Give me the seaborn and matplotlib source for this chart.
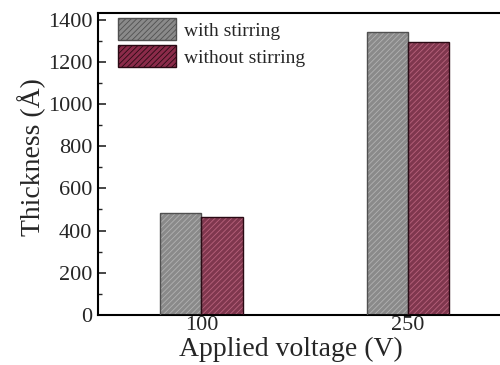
import matplotlib
matplotlib.use('Agg')
import matplotlib.pyplot as plt
import seaborn as sns
import pandas as pd
from matplotlib.patches import Patch, Rectangle
from matplotlib.ticker import MultipleLocator

voltages = ['100', '250']
series = ['with stirring', 'without stirring']
with_stirring = [485, 1340]
without_stirring = [463, 1295]

fills = ['#8a8a8a', '#8b2b4a']
hatch_cols = ['#b2b2b2', '#b8627c']
edges = ['#505050', '#2a0a14']

df = pd.DataFrame({
    'voltage': voltages * 2,
    'series': [series[0]] * 2 + [series[1]] * 2,
    'thickness': with_stirring + without_stirring,
})

sns.set_style('white')
plt.rcParams['font.family'] = ['Liberation Serif', 'DejaVu Serif']
plt.rcParams['hatch.linewidth'] = 0.6

fig = plt.figure(figsize=(5, 3.65), dpi=100)
ax = fig.add_axes([0.196, 0.137, 0.81, 0.828])

sns.barplot(data=df, x='voltage', y='thickness', hue='series', order=voltages,
            hue_order=series, palette=fills, width=0.4, ax=ax, legend=False)

for i, cont in enumerate(ax.containers):
    for bar in cont:
        bar.set_hatch('//////')
        bar.set_edgecolor(hatch_cols[i])
        bar.set_linewidth(0)
        ax.add_patch(Rectangle(bar.get_xy(), bar.get_width(), bar.get_height(),
                               fill=False, edgecolor=edges[i], linewidth=1.0, zorder=3))

ax.set_xlim(-0.5, 1.46)
ax.set_ylim(0, 1432)
ax.yaxis.set_major_locator(MultipleLocator(200))
ax.yaxis.set_minor_locator(MultipleLocator(100))
ax.tick_params(axis='y', which='major', direction='in', length=6, width=1.2,
               labelsize=16, left=True, pad=4)
ax.tick_params(axis='y', which='minor', direction='in', length=3, width=1.0, left=True)
ax.tick_params(axis='x', length=0, labelsize=16, pad=1)
for s in ['left', 'bottom', 'top']:
    ax.spines[s].set_color('black')
    ax.spines[s].set_linewidth(1.5)
ax.spines['right'].set_visible(False)

ax.set_xlabel('Applied voltage (V)', fontsize=20)
ax.set_ylabel('Thickness (Å)', fontsize=20)
ax.xaxis.set_label_coords(0.477, -0.072)
ax.yaxis.set_label_coords(-0.128, 0.523)

handles = []
for i in range(2):
    handles.append(Patch(facecolor=fills[i], edgecolor=edges[i], hatch='//////',
                         linewidth=1.0, label=series[i]))
leg = ax.legend(handles=handles, loc='upper left', bbox_to_anchor=(0.02, 1.02),
                frameon=False, fontsize=14, handlelength=3.0, handleheight=1.3,
                handletextpad=0.4, labelspacing=0.3, borderaxespad=0.2)

fig.savefig('out.png', dpi=100)
